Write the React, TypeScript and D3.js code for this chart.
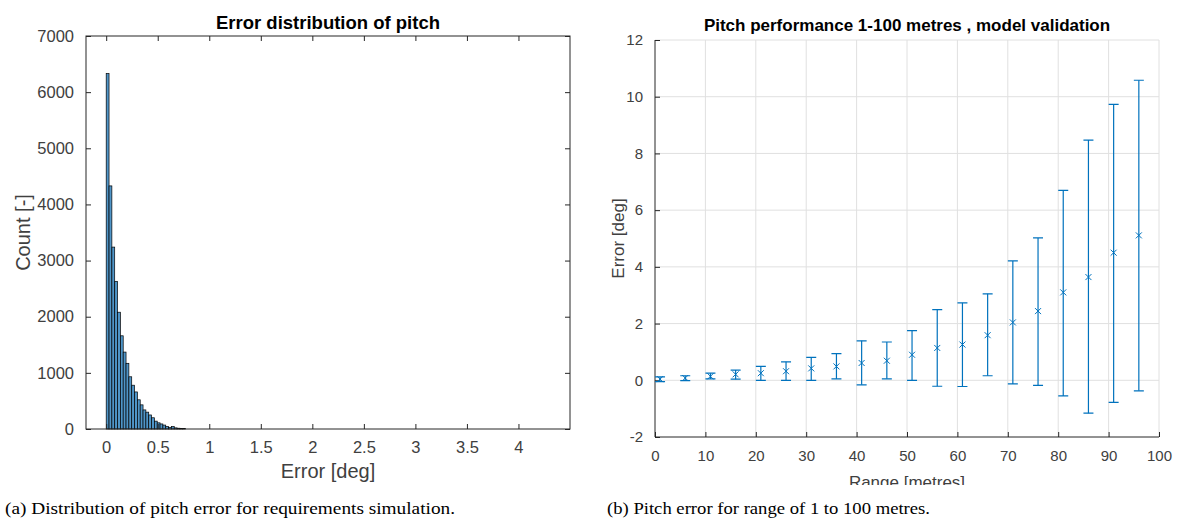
import React, { useEffect, useRef } from 'react'
import { axisBottom, axisLeft, axisRight, axisTop, scaleLinear, select } from 'd3'

// left: histogram of pitch error (counts per bin, bins start at 0)
const binWidth = 0.0275
const histCounts = [
  6330, 4330, 3240, 2630, 2080, 1660, 1370, 1170, 930, 780, 660, 520, 430, 340,
  300, 250, 200, 140, 110, 90, 70, 45, 30, 42, 20, 14, 10, 8,
]
const histXTicks = [0, 0.5, 1, 1.5, 2, 2.5, 3, 3.5, 4]
const histYTicks = [0, 1000, 2000, 3000, 4000, 5000, 6000, 7000]

// right: pitch error vs range
const ranges = [1, 6, 11, 16, 21, 26, 31, 36, 41, 46, 51, 56, 61, 66, 71, 76, 81, 86, 91, 96]
const means = [0.04, 0.08, 0.14, 0.21, 0.25, 0.32, 0.42, 0.49, 0.61, 0.69, 0.9, 1.14, 1.26, 1.59, 2.04, 2.44, 3.1, 3.64, 4.5, 5.11]
const upper = [0.12, 0.16, 0.25, 0.36, 0.49, 0.65, 0.81, 0.94, 1.39, 1.35, 1.75, 2.49, 2.73, 3.05, 4.21, 5.02, 6.7, 8.47, 9.73, 10.58]
const lower = [-0.05, -0.01, 0.05, 0.04, 0, 0, 0, 0.05, -0.16, 0.05, 0, -0.21, -0.22, 0.16, -0.13, -0.18, -0.55, -1.16, -0.78, -0.37]
const rangeTicks = [0, 10, 20, 30, 40, 50, 60, 70, 80, 90, 100]
const errTicks = [-2, 0, 2, 4, 6, 8, 10, 12]

const FONT = '"Liberation Sans", Arial, sans-serif'
const AXIS = '#262626'
const TICKTXT = '#404040'
const BLUE = '#0072bd'

const plain = (d: any) => `${d}`

const App = () => {
  const ref = useRef<SVGSVGElement>(null)

  useEffect(() => {
    main()
  }, [])

  const styleAxis = (g: any, size: number) => {
    g.select('.domain').remove()
    g.selectAll('line').attr('stroke', AXIS).attr('stroke-width', 1)
    g.selectAll('text')
      .attr('fill', TICKTXT)
      .style('font-family', FONT)
      .style('font-size', `${size}px`)
  }

  const main = () => {
    const svg = select(ref.current)
    svg.selectAll('*').remove()

    // ---------- left chart ----------
    const L = { x0: 86, x1: 570, y0: 36, y1: 429 }
    const hx = scaleLinear().domain([-0.196, 4.5]).range([L.x0, L.x1])
    const hy = scaleLinear().domain([0, 7000]).range([L.y1, L.y0])

    svg
      .append('g')
      .selectAll('rect')
      .data(histCounts)
      .enter()
      .append('rect')
      .attr('x', (d, i) => hx(i * binWidth))
      .attr('y', (d) => hy(d))
      .attr('width', hx(binWidth) - hx(0))
      .attr('height', (d) => hy(0) - hy(d))
      .attr('fill', '#4f95c8')
      .attr('stroke', '#000')
      .attr('stroke-width', 0.7)

    svg
      .append('rect')
      .attr('x', L.x0)
      .attr('y', L.y0)
      .attr('width', L.x1 - L.x0)
      .attr('height', L.y1 - L.y0)
      .attr('fill', 'none')
      .attr('stroke', AXIS)
      .attr('stroke-width', 1)

    const hxb = svg
      .append('g')
      .attr('transform', `translate(0,${L.y1})`)
      .call(axisBottom(hx).tickValues(histXTicks).tickSize(-5).tickPadding(12).tickFormat(plain))
    styleAxis(hxb, 16.5)
    const hxt = svg
      .append('g')
      .attr('transform', `translate(0,${L.y0})`)
      .call(axisTop(hx).tickValues(histXTicks).tickSize(-5).tickFormat(() => ''))
    styleAxis(hxt, 16.5)
    const hyl = svg
      .append('g')
      .attr('transform', `translate(${L.x0},0)`)
      .call(axisLeft(hy).tickValues(histYTicks).tickSize(-5).tickPadding(12).tickFormat(plain))
    styleAxis(hyl, 16.5)
    const hyr = svg
      .append('g')
      .attr('transform', `translate(${L.x1},0)`)
      .call(axisRight(hy).tickValues(histYTicks).tickSize(-5).tickFormat(() => ''))
    styleAxis(hyr, 16.5)

    svg
      .append('text')
      .attr('x', (L.x0 + L.x1) / 2)
      .attr('y', 29)
      .attr('text-anchor', 'middle')
      .style('font-family', FONT)
      .style('font-size', '18.5px')
      .style('font-weight', 'bold')
      .attr('fill', '#000')
      .text('Error distribution of pitch')
    svg
      .append('text')
      .attr('x', (L.x0 + L.x1) / 2)
      .attr('y', 478)
      .attr('text-anchor', 'middle')
      .style('font-family', FONT)
      .style('font-size', '20px')
      .attr('fill', TICKTXT)
      .text('Error [deg]')
    svg
      .append('text')
      .attr('transform', `translate(30,${(L.y0 + L.y1) / 2}) rotate(-90)`)
      .attr('text-anchor', 'middle')
      .style('font-family', FONT)
      .style('font-size', '20px')
      .attr('fill', TICKTXT)
      .text('Count [-]')

    // ---------- right chart ----------
    const R = { x0: 655, x1: 1159, y0: 40, y1: 437 }
    const rx = scaleLinear().domain([0, 100]).range([R.x0, R.x1])
    const ry = scaleLinear().domain([-2, 12]).range([R.y1, R.y0])

    const grid = svg.append('g')
    grid
      .selectAll('.gx')
      .data(rangeTicks.slice(1))
      .enter()
      .append('line')
      .attr('x1', (d) => rx(d))
      .attr('x2', (d) => rx(d))
      .attr('y1', R.y0)
      .attr('y2', R.y1)
      .attr('stroke', '#e0e0e0')
      .attr('stroke-width', 1)
    grid
      .selectAll('.gy')
      .data(errTicks.slice(1))
      .enter()
      .append('line')
      .attr('x1', R.x0)
      .attr('x2', R.x1)
      .attr('y1', (d) => ry(d))
      .attr('y2', (d) => ry(d))
      .attr('stroke', '#e0e0e0')
      .attr('stroke-width', 1)

    const rxb = svg
      .append('g')
      .attr('transform', `translate(0,${R.y1})`)
      .call(axisBottom(rx).tickValues(rangeTicks).tickSize(-5).tickPadding(13).tickFormat(plain))
    styleAxis(rxb, 15)
    const ryl = svg
      .append('g')
      .attr('transform', `translate(${R.x0},0)`)
      .call(axisLeft(ry).tickValues(errTicks).tickSize(-5).tickPadding(12).tickFormat(plain))
    styleAxis(ryl, 15)
    svg
      .append('path')
      .attr('d', `M${R.x0},${R.y0}V${R.y1}H${R.x1}`)
      .attr('fill', 'none')
      .attr('stroke', AXIS)
      .attr('stroke-width', 1)

    const pts = svg
      .append('g')
      .selectAll('g')
      .data(ranges)
      .enter()
      .append('g')
      .attr('stroke', BLUE)
      .attr('stroke-width', 1.2)
      .attr('fill', 'none')
    pts
      .append('line')
      .attr('x1', (d) => rx(d))
      .attr('x2', (d) => rx(d))
      .attr('y1', (d, i) => ry(upper[i]))
      .attr('y2', (d, i) => ry(lower[i]))
    pts
      .append('path')
      .attr('d', (d, i) => {
        const x = rx(d)
        return `M${x - 5},${ry(upper[i])}H${x + 5}M${x - 5},${ry(lower[i])}H${x + 5}`
      })
    pts
      .append('path')
      .attr('d', (d, i) => {
        const x = rx(d)
        const y = ry(means[i])
        return `M${x - 3},${y - 3}L${x + 3},${y + 3}M${x - 3},${y + 3}L${x + 3},${y - 3}`
      })
      .attr('stroke-width', 1)

    svg
      .append('text')
      .attr('x', (R.x0 + R.x1) / 2)
      .attr('y', 31)
      .attr('text-anchor', 'middle')
      .style('font-family', FONT)
      .style('font-size', '17px')
      .style('font-weight', 'bold')
      .attr('fill', '#000')
      .text('Pitch performance 1-100 metres , model validation')
    svg
      .append('text')
      .attr('transform', `translate(624,${(R.y0 + R.y1) / 2}) rotate(-90)`)
      .attr('text-anchor', 'middle')
      .style('font-family', FONT)
      .style('font-size', '17px')
      .attr('fill', TICKTXT)
      .text('Error [deg]')
    svg
      .append('text')
      .attr('x', (R.x0 + R.x1) / 2)
      .attr('y', 488)
      .attr('text-anchor', 'middle')
      .style('font-family', FONT)
      .style('font-size', '17px')
      .attr('fill', TICKTXT)
      .text('Range [metres]')

    // captions (the range label is clipped by the caption strip)
    svg.append('rect').attr('x', 600).attr('y', 485).attr('width', 577).attr('height', 35).attr('fill', '#fff')
    svg
      .append('text')
      .attr('x', 5)
      .attr('y', 514)
      .attr('textLength', 450)
      .attr('lengthAdjust', 'spacingAndGlyphs')
      .style('font-family', '"Liberation Serif", serif')
      .style('font-size', '16px')
      .attr('fill', '#000')
      .text('(a) Distribution of pitch error for requirements simulation.')
    svg
      .append('text')
      .attr('x', 607)
      .attr('y', 514)
      .attr('textLength', 323)
      .attr('lengthAdjust', 'spacingAndGlyphs')
      .style('font-family', '"Liberation Serif", serif')
      .style('font-size', '16px')
      .attr('fill', '#000')
      .text('(b) Pitch error for range of 1 to 100 metres.')
  }

  return (
    <div style={{ position: 'absolute', left: 0, top: 0 }}>
      <svg ref={ref} width={1177} height={520} style={{ display: 'block', background: '#fff' }}></svg>
    </div>
  )
}

export default App
